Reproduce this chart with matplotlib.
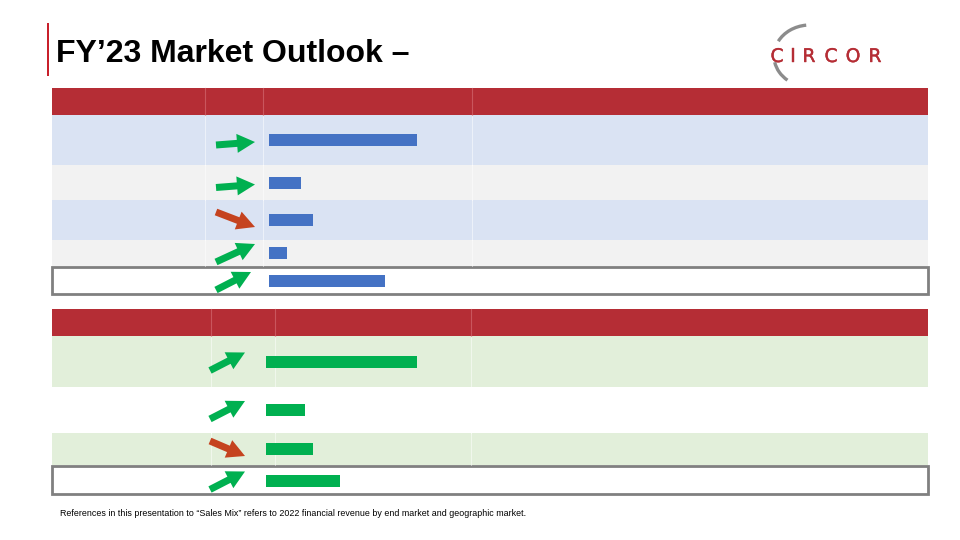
import numpy as np
import matplotlib
matplotlib.use("Agg")
import matplotlib.pyplot as plt
import matplotlib.patheffects as pe
from matplotlib.patches import Rectangle, FancyArrow, Arc

plt.rcParams['font.family'] = ['Liberation Sans', 'DejaVu Sans']

# ---- data ----
title = "FY\u201923 Market Outlook \u2013"
footnote = ("References in this presentation to \u201cSales Mix\u201d refers to 2022 "
            "financial revenue by end market and geographic market.")
logo_text = "CIRCOR"

# table 1 (end markets): sales-mix bar values (relative units) and outlook trend
t1_values = [49.3, 10.7, 14.7, 6.0, 38.7]
t1_trend = ["flat", "flat", "down", "up", "up"]
# table 2 (geographic markets)
t2_values = [50.3, 13.0, 15.7, 24.7]
t2_trend = ["up", "up", "down", "up"]

# ---- styling / layout ----
RED = "#B52D35"
BLUE_BAR = "#4472C4"
GREEN_BAR = "#00B050"
GREEN_ARROW = "#00B050"
RED_ARROW = "#C5431F"
BLUE_ROW = "#DAE3F3"
GRAY_ROW = "#F2F2F2"
GREEN_ROW = "#E2EFDA"
PX_PER_UNIT = 3.0

fig = plt.figure(figsize=(9.6, 5.4), dpi=100)
ax = fig.add_axes([0, 0, 1, 1])
ax.set_xlim(0, 960)
ax.set_ylim(540, 0)
ax.axis('off')

# title + accent bar
ax.add_patch(Rectangle((47, 23), 2.2, 53, color="#C8202B", lw=0))
ax.text(56, 62, title, fontsize=23, fontweight='bold', color='black', va='baseline', ha='left')

# logo
ax.add_patch(Arc((810, 56), 72, 62, angle=0, theta1=205, theta2=263, color="#8C8C8C", lw=2.4))
ax.add_patch(Arc((810, 56), 72, 62, angle=0, theta1=133, theta2=170, color="#8C8C8C", lw=2.4))
for ch, cx in zip(logo_text, [777, 793, 809, 831, 853, 875]):
    ax.text(cx, 62, ch, fontsize=13.5, color=RED, ha='center', va='baseline',
            family='DejaVu Sans',
            path_effects=[pe.withStroke(linewidth=0.3, foreground=RED)])


def draw_table(x0, x1, head, row_bounds, row_colors, total_box, dividers,
               values, trends, bar_left, bar_color, arrow_x, arrow_len):
    # header
    ax.add_patch(Rectangle((x0, head[0]), x1 - x0, head[1] - head[0], color=RED, lw=0))
    for dx in dividers:
        ax.plot([dx, dx], [head[0], head[1]], color="#C9565D", lw=0.8)
    # body rows
    for (ya, yb), c in zip(zip(row_bounds[:-1], row_bounds[1:]), row_colors):
        ax.add_patch(Rectangle((x0, ya), x1 - x0, yb - ya, color=c, lw=0))
        for dx in dividers:
            ax.plot([dx, dx], [ya, yb], color="white", lw=0.6, alpha=0.6)
    # total box
    ax.add_patch(Rectangle((x0, total_box[0]), x1 - x0, total_box[1] - total_box[0],
                           facecolor="white", edgecolor="#808080", lw=2))
    centers = [(a + b) / 2 for a, b in zip(row_bounds[:-1], row_bounds[1:])]
    centers.append((total_box[0] + total_box[1]) / 2 + 0.5)
    ax.barh(centers, np.array(values) * PX_PER_UNIT, left=bar_left, height=12,
            color=bar_color, zorder=3)
    for yc, tr, ln in zip(centers, trends, arrow_len):
        if tr == "flat":
            y_start, y_end, col = yc + 5, yc + 2, GREEN_ARROW
        elif tr == "up":
            y_start, y_end, col = yc + 9, yc - 9, GREEN_ARROW
        else:
            y_start, y_end, col = yc - 8, yc + 7, RED_ARROW
        ax.add_patch(FancyArrow(arrow_x, y_start, ln, y_end - y_start, width=7,
                                head_width=19, head_length=18, length_includes_head=True,
                                color=col, lw=0, zorder=4))


draw_table(52, 928, (88, 115), [115, 165, 200, 240, 266],
           [BLUE_ROW, GRAY_ROW, BLUE_ROW, GRAY_ROW], (267, 294),
           [205, 263, 472], t1_values, t1_trend, 269, BLUE_BAR, 216,
           [39, 39, 39, 39, 35])

draw_table(52, 928, (309, 336), [336, 387, 433, 465],
           [GREEN_ROW, "white", GREEN_ROW], (466, 494),
           [211, 275, 471], t2_values, t2_trend, 266, GREEN_BAR, 210,
           [35, 35, 35, 35])

ax.text(60, 516, footnote, fontsize=6.4, color='black', va='baseline', ha='left')

fig.savefig("out.png", dpi=100)
